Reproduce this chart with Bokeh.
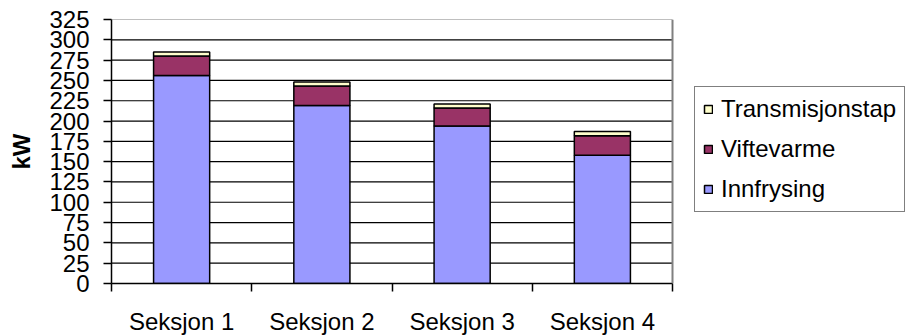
from bokeh.plotting import figure
from bokeh.models import Range1d, FixedTicker, Legend, LegendItem, ColumnDataSource, Span
from bokeh.embed import file_html
from bokeh.resources import INLINE

categories = ["Seksjon 1", "Seksjon 2", "Seksjon 3", "Seksjon 4"]
innfrysing = [256, 219, 194, 158]
viftevarme = [24, 24, 22, 24]
transmisjonstap = [5, 5, 5, 5]
series = ["Innfrysing", "Viftevarme", "Transmisjonstap"]
colors = ["#9999FF", "#993366", "#FFFFCC"]
y_ticks = [0, 25, 50, 75, 100, 125, 150, 175, 200, 225, 250, 275, 300, 325]

FONT = "Liberation Sans"

n = len(categories)
PX_PER_CAT = 140.25          # plot-area width per category (px)
FRAME_W = 796                # frame includes room for the legend on the right
x_end = FRAME_W / PX_PER_CAT

x_pos = [i + 0.5 for i in range(n)]
bounds = [float(i) for i in range(n + 1)]
source = ColumnDataSource(dict(x=x_pos, Innfrysing=innfrysing,
                               Viftevarme=viftevarme, Transmisjonstap=transmisjonstap))

p = figure(frame_width=FRAME_W, frame_height=264,
           x_range=Range1d(0, x_end), y_range=Range1d(0, 325),
           output_backend="svg", toolbar_location=None,
           min_border_left=111, min_border_right=0,
           min_border_top=19, min_border_bottom=0)

# horizontal gridlines limited to the plot area (top one grey, as the border)
grid_src = ColumnDataSource(dict(
    x0=[0] * len(y_ticks), x1=[n] * len(y_ticks), y=y_ticks,
    c=["black"] * (len(y_ticks) - 1) + ["#808080"]))
p.segment(x0="x0", x1="x1", y0="y", y1="y", source=grid_src,
          line_color="c", line_width=1.2, level="underlay")

renderers = p.vbar_stack(series, x="x", width=0.4, source=source,
                         fill_color=colors, line_color="black", line_width=1.5)

# x axis
p.xaxis.bounds = (0, n)
p.xaxis.ticker = FixedTicker(ticks=x_pos, minor_ticks=bounds)
p.xaxis.major_label_overrides = {x: c for x, c in zip(x_pos, categories)}
p.xaxis.major_tick_out = 0
p.xaxis.major_tick_in = 0
p.xaxis.minor_tick_out = 8
p.xaxis.minor_tick_in = 0
p.xaxis.minor_tick_line_color = "black"
p.xaxis.minor_tick_line_width = 1.5
p.xaxis.axis_line_color = "black"
p.xaxis.axis_line_width = 1.5
p.xaxis.major_label_text_font = FONT
p.xaxis.major_label_text_font_size = "24px"
p.xaxis.major_label_text_color = "black"
p.xaxis.major_label_standoff = 16

# y axis
p.yaxis.ticker = FixedTicker(ticks=y_ticks)
p.yaxis.major_tick_out = 8
p.yaxis.major_tick_in = 0
p.yaxis.minor_tick_line_color = None
p.yaxis.major_tick_line_color = "black"
p.yaxis.major_tick_line_width = 1.5
p.yaxis.axis_line_color = "black"
p.yaxis.axis_line_width = 1.5
p.yaxis.major_label_text_font = FONT
p.yaxis.major_label_text_font_size = "24px"
p.yaxis.major_label_text_color = "black"
p.yaxis.major_label_standoff = 14
p.yaxis.axis_label = "kW"
p.yaxis.axis_label_text_font = FONT
p.yaxis.axis_label_text_font_size = "24px"
p.yaxis.axis_label_text_font_style = "bold"
p.yaxis.axis_label_text_color = "black"
p.yaxis.axis_label_standoff = 11

p.xgrid.grid_line_color = None
p.ygrid.grid_line_color = None

# plot-area right border (grey)
p.add_layout(Span(location=n, dimension="height", line_color="#808080", line_width=2))

p.outline_line_color = None
p.background_fill_color = "white"
p.border_fill_color = "white"

items = [LegendItem(label=s, renderers=[r]) for s, r in zip(series, renderers)][::-1]
legend = Legend(items=items, location=(583, 71), orientation="vertical",
                glyph_width=10, glyph_height=10,
                label_text_font=FONT, label_text_font_size="24px",
                label_text_color="black",
                spacing=12, padding=8, margin=0, label_standoff=8,
                border_line_color="black", border_line_width=1.5,
                background_fill_color="white", background_fill_alpha=1.0)
p.add_layout(legend, "center")

open("out.html", "w").write(file_html(p, INLINE))
